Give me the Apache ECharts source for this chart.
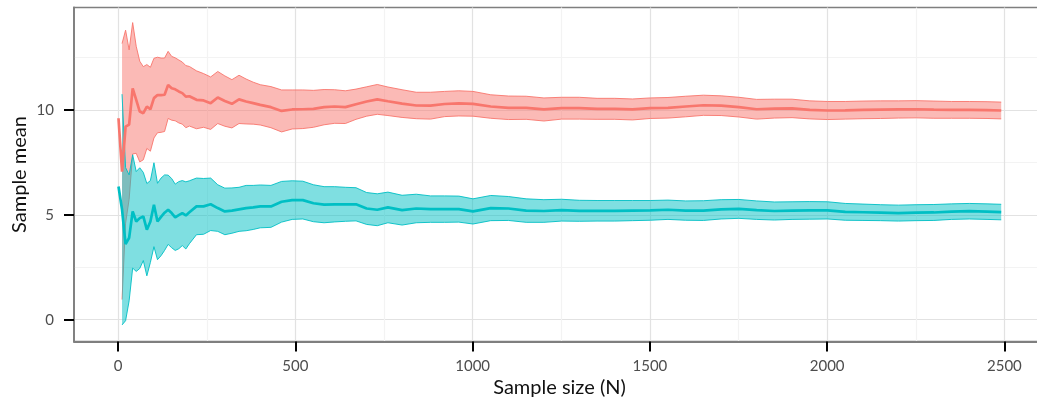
<!DOCTYPE html>
<html>
<head>
<meta charset="utf-8">
<script src="https://cdn.jsdelivr.net/npm/echarts@6/dist/echarts.min.js"></script>
<style>
  html, body { margin: 0; padding: 0; background: #ffffff; }
  #chart { width: 1037px; height: 403px; }
</style>
</head>
<body>
<div id="chart"></div>
<script>
// Sample sizes at which the running mean is recorded
const sampleSizes = [
  1, 11, 21, 31, 41, 51, 61, 71, 81, 91, 101, 111, 121, 131, 141, 151, 161, 171, 181, 191, 201,
  221, 241, 261, 281, 301, 321, 341, 361, 381, 401,
  431, 461, 491, 521, 551, 581, 611, 641, 671, 701, 731, 761,
  801, 841, 881, 921, 961, 1001,
  1051, 1101, 1151, 1201, 1251, 1301, 1351, 1401, 1451, 1501, 1551, 1601, 1651, 1701, 1751,
  1801, 1851, 1901, 1951, 2001, 2051, 2101, 2151, 2201, 2251, 2301, 2351, 2401, 2451, 2491
];

// Group with population mean 10: running sample mean and 95% CI half-width
const meanHigh = [
  9.6, 7.06, 9.2, 9.3, 11.03, 10.48, 9.92, 9.84, 10.16, 10.03, 10.56, 10.71, 10.7, 10.72, 11.19, 11.03, 10.98, 10.88, 10.8, 10.63, 10.65,
  10.48, 10.45, 10.32, 10.59, 10.42, 10.29, 10.5, 10.4, 10.32, 10.24,
  10.13, 9.95, 10.02, 10.03, 10.05, 10.13, 10.16, 10.13, 10.27, 10.4, 10.5, 10.41,
  10.3, 10.21, 10.2, 10.28, 10.31, 10.29,
  10.16, 10.1, 10.1, 10.02, 10.08, 10.08, 10.05, 10.05, 10.02, 10.08, 10.1, 10.16, 10.22, 10.2, 10.13,
  10.03, 10.06, 10.07, 10.0, 9.97, 9.98, 10.0, 10.01, 10.02, 10.03, 10.01, 10.0, 10.0, 9.99, 9.97
];
const ciHigh = [
  null, 6.1, 4.6, 3.56, 3.13, 2.55, 2.4, 2.22, 2.0, 2.0, 1.9, 1.8, 1.77, 1.75, 1.6, 1.52, 1.5, 1.5, 1.48, 1.48, 1.42,
  1.38, 1.28, 1.25, 1.24, 1.2, 1.15, 1.15, 1.07, 1.0, 0.96,
  0.98, 1.0, 0.93, 0.92, 0.88, 0.84, 0.8, 0.78, 0.72, 0.7, 0.71, 0.68,
  0.66, 0.63, 0.64, 0.6, 0.6, 0.59,
  0.56, 0.56, 0.55, 0.55, 0.52, 0.52, 0.5, 0.5, 0.5, 0.49, 0.49, 0.49, 0.48, 0.47, 0.47,
  0.47, 0.45, 0.44, 0.43, 0.43, 0.42, 0.42, 0.42, 0.41, 0.41, 0.41, 0.4, 0.4, 0.4, 0.4
];

// Group with population mean 5: running sample mean and 95% CI half-width
const meanLow = [
  6.35, 5.25, 3.6, 3.9, 5.16, 4.68, 4.84, 4.92, 4.29, 4.68, 5.48, 4.68, 4.9, 5.1, 5.24, 5.08, 4.88, 4.98, 5.08, 4.97, 5.12,
  5.4, 5.4, 5.5, 5.32, 5.16, 5.2, 5.26, 5.32, 5.35, 5.4,
  5.4, 5.62, 5.7, 5.7, 5.55, 5.48, 5.5, 5.5, 5.5, 5.3, 5.24, 5.35,
  5.22, 5.3, 5.27, 5.27, 5.27, 5.16,
  5.32, 5.3, 5.2, 5.18, 5.22, 5.19, 5.19, 5.19, 5.2, 5.21, 5.24, 5.2, 5.2, 5.26, 5.28,
  5.22, 5.18, 5.2, 5.21, 5.21, 5.14, 5.12, 5.1, 5.08, 5.1, 5.11, 5.15, 5.17, 5.15, 5.13
];
const ciLow = [
  null, 5.5, 3.65, 3.0, 2.7, 2.38, 2.4, 2.1, 2.2, 1.95, 2.0, 1.82, 1.85, 1.8, 1.65, 1.65, 1.58, 1.6, 1.55, 1.6, 1.5,
  1.35, 1.33, 1.25, 1.11, 1.11, 1.08, 1.05, 1.08, 1.05, 1.02,
  1.0, 0.97, 0.92, 0.9, 0.88, 0.86, 0.84, 0.81, 0.79, 0.76, 0.76, 0.73,
  0.71, 0.68, 0.63, 0.63, 0.62, 0.6,
  0.6, 0.57, 0.56, 0.54, 0.52, 0.5, 0.49, 0.49, 0.48, 0.47, 0.46, 0.46, 0.47, 0.46, 0.45,
  0.44, 0.43, 0.42, 0.42, 0.41, 0.4, 0.39, 0.38, 0.38, 0.38, 0.38, 0.37, 0.37, 0.37, 0.37
];

// Axis ticks
const xMajorTicks = [0, 500, 1000, 1500, 2000, 2500];
const xMinorTicks = [250, 750, 1250, 1750, 2250];
const yMajorTicks = [0, 5, 10];
const yMinorTicks = [2.5, 7.5, 12.5];

const RED = '#F8766D';
const CYAN = '#00BFC4';
const RED_FILL = 'rgba(248,118,109,0.5)';
const CYAN_FILL = 'rgba(0,191,196,0.5)';

// Panel limits padded by 5% of the data range on each side
const xLo = -124.5, xHi = 2614.5;
const yLo = -1.04, yHi = 14.88;

function meanData(means) {
  return sampleSizes.map((n, i) => [n, means[i]]);
}

// Rows [N, lower, upper] where an interval exists
function intervalRows(means, ci) {
  const rows = [];
  sampleSizes.forEach((n, i) => {
    if (ci[i] != null) rows.push([n, means[i] - ci[i], means[i] + ci[i]]);
  });
  return rows;
}

// Confidence band drawn as one polygon through the cartesian coordinate system
function ribbon(color, fill, means, ci) {
  const rows = intervalRows(means, ci);
  return {
    type: 'custom', data: rows, silent: true, clip: true,
    encode: { x: 0, y: [1, 2] },
    renderItem: function (params, api) {
      if (params.dataIndex !== 0) return null;
      const upper = rows.map(r => api.coord([r[0], r[2]]));
      const lower = rows.map(r => api.coord([r[0], r[1]]));
      const outline = upper.concat(lower.slice().reverse());
      return {
        type: 'group',
        children: [
          { type: 'polygon', shape: { points: outline }, style: { fill: fill, stroke: null } },
          { type: 'polyline', shape: { points: upper }, style: { stroke: color, fill: null, lineWidth: 1, opacity: 0.9 } },
          { type: 'polyline', shape: { points: lower }, style: { stroke: color, fill: null, lineWidth: 1, opacity: 0.9 } }
        ]
      };
    }
  };
}

function meanLine(color, means) {
  return {
    type: 'line', data: meanData(means), symbol: 'none', silent: true,
    lineStyle: { color: color, width: 2.7 }, z: 3
  };
}

const labelFont = { fontFamily: 'Lato', fontSize: 15, color: '#4d4d4d' };
const titleFont = { fontFamily: 'Lato', fontSize: 20, color: '#111111' };
const plainNumber = v => String(v);

const chart = echarts.init(document.getElementById('chart'), null, { renderer: 'canvas' });
chart.setOption({
  animation: false,
  backgroundColor: '#ffffff',
  grid: {
    left: 74, top: 7.5, width: 971, height: 334,
    outerBoundsMode: 'none', containLabel: false,
    show: true, borderColor: '#7f7f7f', borderWidth: 1.6, backgroundColor: 'transparent'
  },
  xAxis: [
    {
      type: 'value', min: xLo, max: xHi,
      name: 'Sample size (N)', nameLocation: 'middle', nameGap: 36, nameMoveOverlap: false, nameTextStyle: titleFont,
      axisLine: { show: true, onZero: false, lineStyle: { color: '#7f7f7f', width: 1.8 } },
      axisTick: { show: true, length: 10, customValues: xMajorTicks, lineStyle: { color: '#000', width: 2 } },
      axisLabel: { customValues: xMajorTicks, margin: 17, formatter: plainNumber, ...labelFont },
      splitLine: { show: true, lineStyle: { color: '#e2e2e2', width: 1.2 } }
    },
    {
      type: 'value', min: xLo, max: xHi, position: 'bottom',
      axisLine: { show: false }, axisLabel: { show: false },
      axisTick: { show: false, customValues: xMinorTicks },
      splitLine: { show: true, lineStyle: { color: '#f3f3f3', width: 1.2 } }
    }
  ],
  yAxis: [
    {
      type: 'value', min: yLo, max: yHi,
      name: 'Sample mean', nameLocation: 'middle', nameGap: 44, nameMoveOverlap: false, nameTextStyle: titleFont,
      axisLine: { show: true, onZero: false, lineStyle: { color: '#7f7f7f', width: 1.8 } },
      axisTick: { show: true, length: 10, customValues: yMajorTicks, lineStyle: { color: '#000', width: 2 } },
      axisLabel: { customValues: yMajorTicks, margin: 20, formatter: plainNumber, ...labelFont },
      splitLine: { show: true, lineStyle: { color: '#e2e2e2', width: 1.2 } }
    },
    {
      type: 'value', min: yLo, max: yHi, position: 'left',
      axisLine: { show: false }, axisLabel: { show: false },
      axisTick: { show: false, customValues: yMinorTicks },
      splitLine: { show: true, lineStyle: { color: '#f3f3f3', width: 1.2 } }
    }
  ],
  series: [
    ribbon(RED, RED_FILL, meanHigh, ciHigh),
    ribbon(CYAN, CYAN_FILL, meanLow, ciLow),
    meanLine(RED, meanHigh),
    meanLine(CYAN, meanLow)
  ]
});
</script>
</body>
</html>
